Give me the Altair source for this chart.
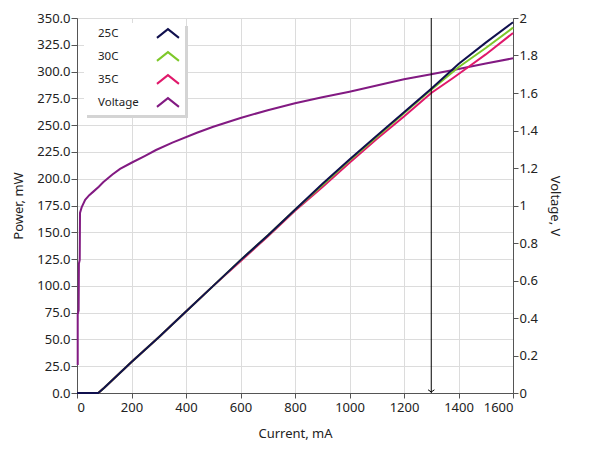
import altair as alt
import pandas as pd

series_names = ["25C", "30C", "35C", "Voltage"]
series_colors = ["#10104e", "#7ec82a", "#e0196b", "#821a82"]

current_a = [0, 20, 40, 60, 78, 100, 200, 300, 400, 500, 600, 700, 800, 900, 1000, 1100, 1200, 1300, 1400, 1500, 1600]
p25 = [0, 0, 0, 0, 0, 5, 29, 52, 76, 100, 124, 147, 171, 195, 218, 240, 262, 284, 307, 327, 346]
p30 = [0, 0, 0, 0, 0, 5, 29, 52, 76, 100, 124, 147, 171, 194, 217, 239, 261, 283, 304, 322, 341]

current_35 = [0, 20, 40, 60, 78, 100, 200, 300, 400, 500, 600, 700, 800, 900, 1000, 1100, 1200, 1300, 1380, 1440, 1500, 1600]
p35 = [0, 0, 0, 0, 0, 5, 29, 52, 76, 100, 123, 146, 170, 192, 215, 237, 258, 280, 294, 305, 316, 336]

current_v = [2.6, 2.6, 6, 7, 10, 11, 17, 30, 45, 60, 80, 96, 130, 158, 200, 250, 290, 350, 440, 500,
             600, 700, 800, 900, 1000, 1100, 1200, 1300, 1400, 1500, 1600]
volt = [0.15, 0.42, 0.44, 0.69, 0.71, 0.96, 0.99, 1.03, 1.055, 1.074, 1.10, 1.124, 1.165, 1.195, 1.228, 1.265, 1.296, 1.335, 1.388, 1.42,
        1.467, 1.508, 1.545, 1.577, 1.607, 1.64, 1.673, 1.70, 1.728, 1.757, 1.785]

cursor_x = [1300]

x_ticks = list(range(0, 1601, 200))
p_ticks = list(range(0, 351, 25))
v_ticks = [round(i * 0.2, 1) for i in range(11)]

rows = []
for name, xs, ys in [("25C", current_a, p25), ("30C", current_a, p30), ("35C", current_35, p35)]:
    for i, (x, y) in enumerate(zip(xs, ys)):
        rows.append({"series": name, "current": x, "power": y, "idx": i})
power_df = pd.DataFrame(rows)
volt_df = pd.DataFrame({"series": "Voltage", "current": current_v, "voltage": volt, "idx": list(range(len(volt)))})
cursor_df = pd.DataFrame({"current": cursor_x})
box_df = pd.DataFrame({"a": [0]})

FONT = "Noto Sans"

color_scale = alt.Scale(domain=series_names, range=series_colors)
legend = alt.Legend(
    title=None, orient="none", legendX=8, legendY=9,
    symbolType="M11.9,0.8L13.9,-0.8L15.9,0.8", symbolSize=121, symbolStrokeWidth=2,
    symbolFillColor="transparent",
    labelFont=FONT, labelFontSize=11.5, labelColor="#222",
    labelOffset=0, symbolOffset=0, rowPadding=6, padding=0,
)

x_enc = alt.X("current:Q", scale=alt.Scale(domain=[0, 1600], nice=False),
              axis=alt.Axis(values=x_ticks, format="d", title="Current, mA", titleY=40, titleBaseline="middle",
                            tickSize=5, labelPadding=3, grid=True))

shadow = alt.Chart(box_df).mark_rect(color="#d4d4d4").encode(
    x=alt.value(10), x2=alt.value(111), y=alt.value(8), y2=alt.value(100))
box = alt.Chart(box_df).mark_rect(color="white").encode(
    x=alt.value(7), x2=alt.value(108), y=alt.value(5), y2=alt.value(97))

def power_layer(name):
    return alt.Chart(power_df).transform_filter(alt.datum.series == name).mark_line(strokeWidth=2).encode(
        x=x_enc,
        y=alt.Y("power:Q", scale=alt.Scale(domain=[0, 350], nice=False),
                axis=alt.Axis(values=p_ticks, format=".1f", title="Power, mW", titleX=-59, titleY=187.5,
                              titleBaseline="middle", tickSize=6, labelPadding=1, grid=True)),
        color=alt.Color("series:N", scale=color_scale, legend=legend),
        order="idx:Q",
    )

rule = alt.Chart(cursor_df).mark_rule(color="black", strokeWidth=1).encode(
    x="current:Q", y=alt.value(0), y2=alt.value(375))
arrow = alt.Chart(cursor_df).mark_point(shape="M-1,-0.7L0,0L1,-0.7", size=40, filled=False,
                                        color="black", strokeWidth=1, opacity=1).encode(
    x="current:Q", y=alt.value(374))

power = alt.layer(shadow, box, power_layer("35C"), power_layer("30C"), power_layer("25C"), rule, arrow)

voltage = alt.Chart(volt_df).mark_line(strokeWidth=2).encode(
    x=x_enc,
    y=alt.Y("voltage:Q", scale=alt.Scale(domain=[0, 2], nice=False),
            axis=alt.Axis(orient="right", values=v_ticks, format=".1~f", title="Voltage, V",
                          titleX=41, titleY=187.5, titleBaseline="middle",
                          tickSize=5, labelPadding=1, grid=False)),
    color=alt.Color("series:N", scale=color_scale, legend=legend),
    order="idx:Q",
)

chart = alt.layer(voltage, power).resolve_scale(y="independent").properties(
    width=436, height=375,
    autosize=alt.AutoSizeParams(type="none"),
    padding={"left": 69, "top": 10, "right": 68, "bottom": 55},
).configure_view(stroke="#555555", strokeWidth=1).configure_axis(
    domainColor="#555555", tickColor="#555555", labelColor="#222222", titleColor="#222222",
    labelFont=FONT, titleFont=FONT, labelFontSize=13, titleFontSize=13, titleFontWeight="normal",
    gridColor="#dcdcdc", gridWidth=1,
)

chart.save("out.html", embed_options={"renderer": "svg", "actions": False})
